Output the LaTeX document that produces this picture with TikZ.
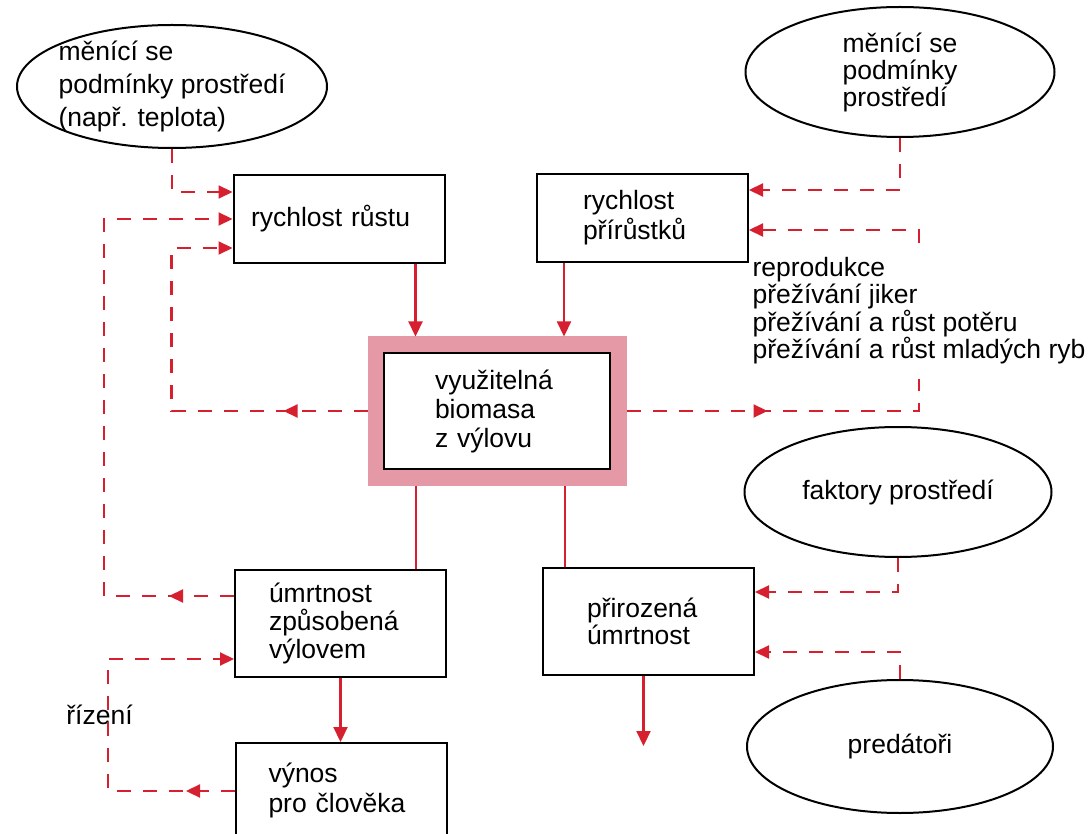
\documentclass[tikz,border=0pt]{standalone}
\usepackage{fontspec}
\setmainfont{Liberation Sans}
\usetikzlibrary{arrows.meta,shapes.geometric,decorations.markings}
\definecolor{fishred}{RGB}{214,32,48}
\definecolor{framepink}{RGB}{229,152,166}

\begin{document}
\begin{tikzpicture}[x=1pt,y=-1pt]
                \tikzset{box/.style={draw, line width=2pt, fill=white, align=left, inner sep=0pt,
                    minimum width=211pt, minimum height=107pt, font=\fontsize{26.5}{29}\selectfont}}
                \tikzset{oval/.style={draw, ellipse, line width=2pt, align=left, inner sep=-14pt,
                    font=\fontsize{26.5}{28}\selectfont}}
                \tikzset{flow/.style={fishred, line width=2.2pt, -{Triangle[length=15pt,width=14pt]}}}
                \tikzset{fb/.style={fishred, line width=2.2pt, dash pattern=on 14pt off 12pt,
                    -{Triangle[length=14pt,width=13pt]}}}
                \tikzset{midarrow/.style={postaction={decorate, decoration={markings,
                    mark=at position #1 with {\arrow{Triangle[length=14pt,width=13pt]}}}}}}
                \useasboundingbox (0,0) rectangle (1088,834);
                \clip (0,0) rectangle (1088,834);
                % ellipses
                \node[oval, minimum width=310pt, minimum height=123pt, font=\fontsize{26.5}{33}\selectfont]
                    (env1) at (172,86.5) {měnící se\\podmínky prostředí\\(např. teplota)};
                \node[oval, minimum width=309pt, minimum height=130pt, font=\fontsize{26.5}{27}\selectfont]
                    (env2) at (900,72) {měnící se\\podmínky\\prostředí};
                \node[oval, minimum width=307pt, minimum height=130pt] (env3) at (898,492) {faktory prostředí};
                \node[oval, minimum width=306pt, minimum height=133pt] (pred) at (900,746.5) {predátoři};
                % boxes
                \node[box, minimum height=88pt, text width=176pt] (growth) at (339,219) {rychlost růstu};
                \node[box, minimum height=88pt, text width=119pt, font=\fontsize{26.5}{30}\selectfont]
                    (rate) at (642.5,218) {rychlost\\přírůstků};
                \node[box, minimum width=226pt, minimum height=116pt, text width=124pt, outer sep=16.5pt,
                    line join=miter, preaction={draw=framepink, line width=33pt}]
                    (bio) at (497,411) {využitelná\\biomasa\\z výlovu};
                \node[box, text width=143pt, font=\fontsize{26.5}{28}\selectfont]
                    (mort) at (340.5,623.5) {úmrtnost\\způsobená\\výlovem};
                \node[box, text width=123pt, font=\fontsize{26.5}{27}\selectfont]
                    (nat) at (648.5,621.5) {přirozená\\úmrtnost};
                \node[box, minimum height=94pt, text width=146pt, font=\fontsize{26.5}{30}\selectfont, anchor=north]
                    (yield) at (341.5,742) {výnos\\pro člověka};
                % labels
                \node[align=left, inner xsep=0pt, inner ysep=14pt, font=\fontsize{26.5}{26.5}\selectfont]
                    (repro) at (919,311) {reprodukce\\přežívání jiker\\přežívání a růst potěru\\přežívání a růst mladých ryb};
                \node[font=\fontsize{26.5}{29}\selectfont] (ctrl) at (99.5,715) {řízení};
                % main flow
                \coordinate (gout) at ([xshift=-30pt]growth.south east);
                \coordinate (rout) at ([xshift=28pt]rate.south west);
                \coordinate (mtop) at ([xshift=-31pt]mort.north east);
                \coordinate (ntop) at ([xshift=23pt]nat.north west);
                \coordinate (loss) at ([xshift=-5pt,yshift=-70pt]nat.south);
                \draw[flow] (gout) -- (gout |- bio.north);
                \draw[flow] (rout) -- (rout |- bio.north);
                \draw[flow, -] (bio.south -| mtop) -- (mtop);
                \draw[flow, -] (bio.south -| ntop) -- (ntop);
                \draw[flow] (mort.south) -- (mort.south |- yield.north);
                \draw[flow] ([xshift=-5pt]nat.south) -- (loss);
                % feedback
                \draw[fb] (env1.south) |- ([yshift=-18pt]growth.north west);
                \draw[fb, midarrow=65pt] ([yshift=-27pt]mort.north west) -- ++(-130,0) |- (growth.west);
                \draw[fb, midarrow=84pt] (bio.west) -- ++(-196,0) |- ([yshift=16pt]growth.south west);
                \draw[fb, -, midarrow=141pt] (bio.east) -| (repro.south);
                \draw[fb] (repro.north) |- ([yshift=-12pt]rate.east);
                \draw[fb] (env2.south) |- ([yshift=28pt]rate.east);
                \draw[fb] (env3.south) |- ([yshift=29.5pt]nat.east);
                \draw[fb] (pred.north) |- ([yshift=-30.5pt]nat.east);
                \draw[fb, midarrow=49pt] ([yshift=-49pt]yield.north west) -- ++(-127,0) |- ([yshift=19pt]mort.south west);
\end{tikzpicture}
\end{document}
